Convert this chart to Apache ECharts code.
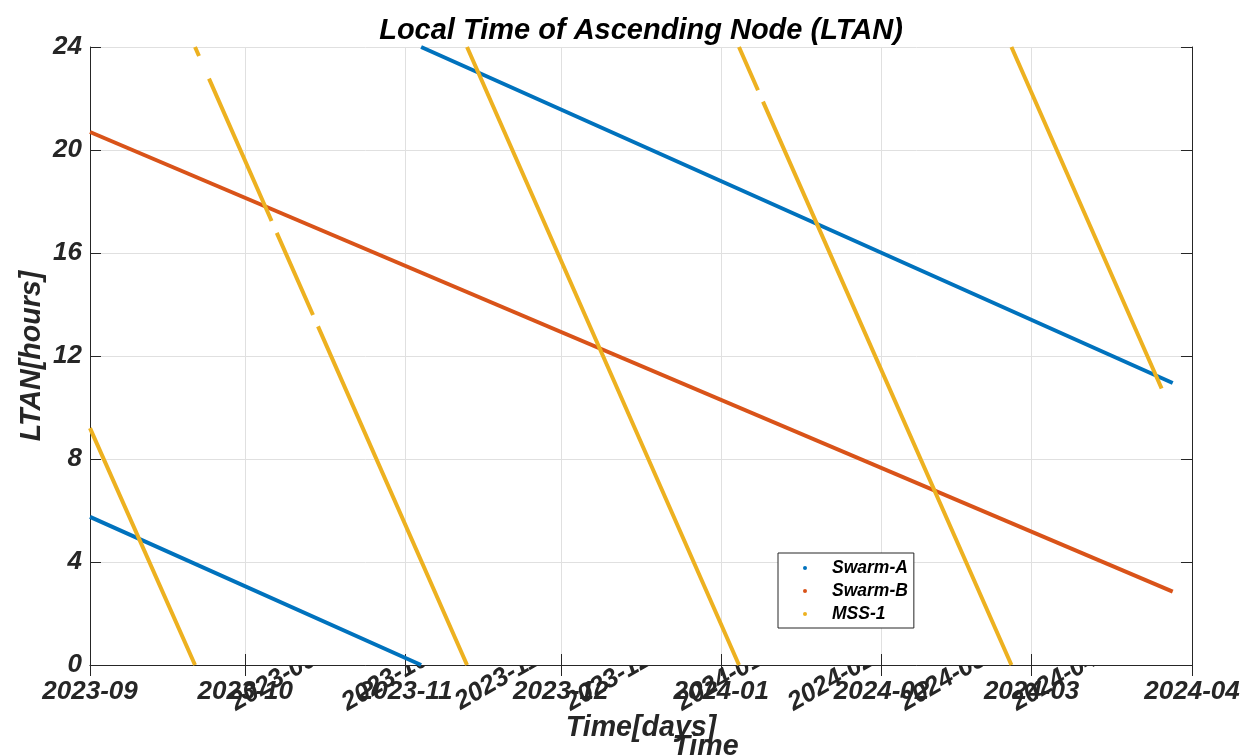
<!DOCTYPE html>
<html>
<head>
<meta charset="utf-8">
<script src="https://cdn.jsdelivr.net/npm/echarts@6/dist/echarts.min.js"></script>
<style>
  html, body { margin: 0; padding: 0; background: #fff; }
  #chart { width: 1241px; height: 756px; }
</style>
</head>
<body>
<div id="chart"></div>
<script>
// LTAN of Swarm-A, Swarm-B and MSS-1 (hours) over Sep 2023 - Apr 2024.
// Each orbit wraps from 0 h back to 24 h; '-' breaks the line there and at data gaps.
const swarmA = [
  ['2023-09-01 00:00', 5.75], ['2023-11-04 00:00', 0], ['2023-11-04 00:00', '-'],
  ['2023-11-04 00:00', 24], ['2024-03-28 06:30', 10.95]
];
const swarmB = [
  ['2023-09-01 00:00', 20.7], ['2024-03-28 06:30', 2.85]
];
const mss1 = [
  ['2023-09-01 00:00', 9.2], ['2023-09-21 07:12', 0], ['2023-09-21 07:12', '-'],
  ['2023-09-21 07:12', 24], ['2023-09-22 01:40', 23.65], ['2023-09-23 00:00', '-'],
  ['2023-09-24 00:00', 22.77], ['2023-10-06 02:24', 17.24], ['2023-10-06 12:00', '-'],
  ['2023-10-07 02:24', 16.78], ['2023-10-14 02:24', 13.59], ['2023-10-14 12:00', '-'],
  ['2023-10-15 01:40', 13.15], ['2023-11-12 21:00', 0], ['2023-11-12 21:00', '-'],
  ['2023-11-12 21:00', 24], ['2024-01-04 10:34', 0], ['2024-01-04 10:34', '-'],
  ['2024-01-04 10:34', 24], ['2024-01-08 02:38', 22.32], ['2024-01-08 12:00', '-'],
  ['2024-01-09 01:55', 21.88], ['2024-02-26 02:24', 0], ['2024-02-26 02:24', '-'],
  ['2024-02-26 02:24', 24], ['2024-03-26 03:07', 10.74]
];

const seriesNames = ['Swarm-A', 'Swarm-B', 'MSS-1'];
const seriesColors = ['#0072BD', '#D95319', '#EDB120'];
const xRange = ['2023-09-01', '2024-04-01'];
const yTicks = [0, 4, 8, 12, 16, 20, 24];
// labels of the second (overlaid) date axis
const overlayMonths = ['2023-09', '2023-10', '2023-11', '2023-12', '2024-01', '2024-02', '2024-03', '2024-04'];

const FONT = '"Liberation Sans", Arial, Helvetica, sans-serif';
const INK = '#262626';
const tickFont = { fontFamily: FONT, fontSize: 26, fontWeight: 'bold', fontStyle: 'italic', color: INK };
const labelFont = { fontFamily: FONT, fontSize: 28.6, fontWeight: 'bold', fontStyle: 'italic', color: INK };

const plot = { left: 90, top: 47, width: 1102, height: 618 };
const DAY = 86400000;

const chart = echarts.init(document.getElementById('chart'), null, { renderer: 'canvas' });

chart.setOption({
  backgroundColor: '#fff',
  animation: false,
  title: {
    text: 'Local Time of Ascending Node (LTAN)',
    left: 636,
    textAlign: 'center',
    top: 11,
    textStyle: { fontFamily: FONT, fontSize: 29, fontWeight: 'bold', fontStyle: 'italic', color: '#000' }
  },
  grid: [
    { left: plot.left, top: plot.top, width: plot.width, height: plot.height, outerBoundsMode: 'none', containLabel: false },
    // compressed overlay axes sitting underneath the main one
    { left: 315, width: 781, top: 400, height: 249, outerBoundsMode: 'none', containLabel: false }
  ],
  graphic: [{
    type: 'rect', z: 1, silent: true,
    shape: { x: plot.left, y: plot.top, width: plot.width, height: plot.height },
    style: { fill: '#fff' }
  }],
  legend: {
    orient: 'vertical',
    left: 778, top: 553,
    z: 6,
    data: seriesNames,
    icon: 'circle',
    itemWidth: 4, itemHeight: 4,
    itemGap: 5,
    padding: [6, 6, 5, 25],
    backgroundColor: '#fff',
    borderColor: INK, borderWidth: 1, borderRadius: 0,
    textStyle: { fontFamily: FONT, fontSize: 17.5, fontWeight: 'bold', fontStyle: 'italic', color: '#000', padding: [0, 0, 0, 20] }
  },
  xAxis: [
    {
      type: 'time', gridIndex: 0, z: 3,
      min: xRange[0], max: xRange[1],
      splitNumber: 7, minInterval: 28 * DAY, maxInterval: 31 * DAY,
      name: 'Time[days]', nameLocation: 'middle', nameGap: 49, nameMoveOverlap: false, nameTextStyle: labelFont,
      axisLine: { lineStyle: { color: '#a6a6a6', width: 1 } },
      axisTick: { inside: true, length: 11, lineStyle: { color: INK } },
      axisLabel: Object.assign({ formatter: '{yyyy}-{MM}', margin: 14, hideOverlap: false, showMinLabel: true, showMaxLabel: true }, tickFont),
      splitLine: { show: true, lineStyle: { color: '#e0e0e0', width: 1 } }
    },
    {
      type: 'time', gridIndex: 0, z: 3, position: 'top',
      min: xRange[0], max: xRange[1],
      splitNumber: 7, minInterval: 28 * DAY, maxInterval: 31 * DAY,
      axisLine: { lineStyle: { color: INK, width: 1 } },
      axisTick: { inside: true, length: 11, lineStyle: { color: INK } },
      axisLabel: { show: false },
      splitLine: { show: false }
    },
    {
      type: 'category', gridIndex: 1, z: 0,
      data: overlayMonths, boundaryGap: false,
      name: 'Time', nameLocation: 'middle', nameGap: 84, nameMoveOverlap: false, nameTextStyle: labelFont,
      axisLine: { show: false }, axisTick: { show: false }, splitLine: { show: false },
      axisLabel: Object.assign({ rotate: 30, margin: 8, interval: 0, hideOverlap: false }, tickFont)
    }
  ],
  yAxis: [
    {
      type: 'value', gridIndex: 0, z: 3,
      min: 0, max: 24, interval: 4,
      name: 'LTAN[hours]', nameLocation: 'middle', nameGap: 43, nameMoveOverlap: false, nameTextStyle: labelFont,
      axisLine: { show: true, lineStyle: { color: INK, width: 1 } },
      axisTick: { show: true, inside: true, length: 11, lineStyle: { color: INK } },
      axisLabel: Object.assign({ margin: 8, formatter: v => (yTicks.includes(v) ? String(v) : '') }, tickFont),
      splitLine: { show: true, lineStyle: { color: '#e0e0e0', width: 1 } }
    },
    {
      type: 'value', gridIndex: 0, z: 3, position: 'right',
      min: 0, max: 24, interval: 4,
      axisLine: { show: true, lineStyle: { color: INK, width: 1 } },
      axisTick: { show: true, inside: true, length: 11, lineStyle: { color: INK } },
      axisLabel: { show: false },
      splitLine: { show: false }
    },
    { type: 'value', gridIndex: 1, show: false }
  ],
  series: seriesNames.map((name, i) => ({
    name,
    type: 'line',
    xAxisIndex: 0, yAxisIndex: 0,
    z: 5,
    data: [swarmA, swarmB, mss1][i],
    showSymbol: false,
    connectNulls: false,
    clip: true,
    color: seriesColors[i],
    lineStyle: { width: 4, color: seriesColors[i], cap: 'butt' },
    emphasis: { disabled: true }
  }))
});
</script>
</body>
</html>
